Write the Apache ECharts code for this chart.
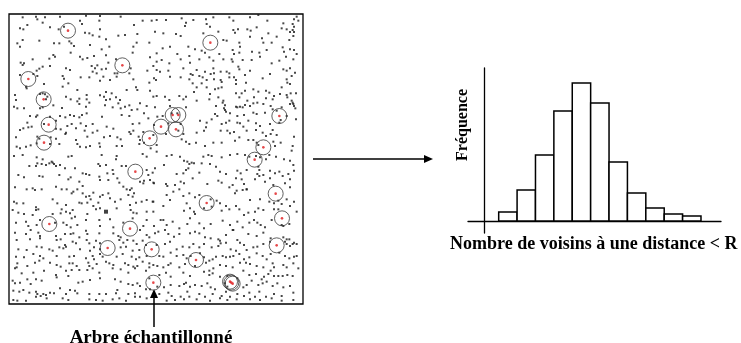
<!DOCTYPE html>
<html><head><meta charset="utf-8">
<script src="https://cdn.jsdelivr.net/npm/echarts@6/dist/echarts.min.js"></script>
<style>html,body{margin:0;padding:0;background:#fff}#c{width:741px;height:343px}</style>
</head><body><div id="c"></div>
<script>
// ---- Left panel: tree positions (plot units, y downward) ----
const treesA = [[68,52],[108,50],[112,58],[128,68],[135,52],[180,50],[258,47],[300,48],[298,62],[362,50],[402,75],[428,62],[455,62],
[60,85],[70,88],[82,75],[150,82],[176,88],[192,80],[240,62],[246,72],[255,98],[268,100],[278,106],[300,88],[298,110],[355,107],[375,105],[412,102],[465,95],
[52,130],[60,140],[68,120],[118,122],[162,130],[178,130],[208,124],[214,130],[222,138],[270,135],[318,118],[328,140],[305,148],[400,140],[410,128],[448,128],
[98,178],[148,176],[160,165],[165,170],[212,158],[240,170],[248,178],[262,174],[282,168],[318,166],[348,178],[398,158],[450,172],
[62,188],[68,195],[72,190],[110,212],[118,206],[128,200],[150,198],[198,205],[210,210],[275,198],[285,205],[292,196],[278,215],[290,220],[305,208],[318,206],[325,188],[392,205],[352,220],[350,230],[388,220],[442,212],[460,198],
[60,225],[100,222],[112,228],[188,228],[192,236],[205,250],[242,232],[268,232],[300,242],[310,230],[330,240],[344,220],[400,238],[448,248],
[78,260],[80,265],[132,252],[188,260],[232,270],[260,285],[318,276],[335,280],[380,270],[408,262],[412,270],[450,272],[460,290],
[45,285],[48,300],[120,282],[128,280],[135,283],[142,290],[138,298],[198,290],[212,298],[238,296],[260,298],[300,286],[318,300],[312,290],[330,298],[348,292],[360,300],
[42,320],[52,325],[72,325],[120,325],[128,322],[160,316],[186,324],[232,304],[238,312],[258,320],[268,308],[315,316],[338,322],[355,310],[362,325],[375,320],[388,316],[395,330],[412,328],[420,310],[440,318],
[90,348],[108,350],[112,346],[150,350],[180,348],[196,352],[210,345],[222,348],[238,352],[246,345],[260,340],[306,350],[365,345],[388,348],[432,340],[445,355],
[82,368],[132,372],[168,362],[202,378],[215,372],[242,370],[258,378],[278,372],[320,380],[398,372],[418,370],
[60,390],[70,385],[85,382],[95,380],[168,386],[182,388],[198,398],[228,385],[254,392],[278,398],[292,392],[340,386],[388,396],[392,402],[400,392],[430,396],
[48,412],[112,410],[118,416],[152,412],[168,416],[196,402],[228,420],[262,410],[312,412],[330,408],[352,412],[362,418],[416,410],[420,420],[432,428],
[50,440],[60,445],[78,440],[92,436],[110,430],[150,432],[178,432],[232,432],[240,440],[258,442],[270,438],[298,430],[300,440],[350,438],[366,438],[418,432],[452,445]];

const treesB = [[470,60],[498,60],[545,55],[558,68],[580,60],[618,58],[640,52],[688,52],[700,62],[750,52],[775,45],[802,62],[850,70],[878,72],[882,58],[890,50],[895,62],
[490,100],[528,102],[542,108],[555,78],[620,72],[630,80],[655,95],[700,90],[705,98],[714,88],[742,88],[752,92],[770,82],[805,100],[845,85],[860,88],[870,96],[878,90],[882,80],
[610,100],[670,120],[680,122],[718,128],[720,140],[750,110],[786,115],[790,128],[815,128],[830,110],[868,120],[880,108],[882,96],
[470,160],[488,145],[510,140],[532,162],[565,140],[568,168],[585,148],[605,152],[615,158],[658,162],[698,150],[702,162],[718,158],[756,155],[778,158],[800,150],[848,142],[852,155],[870,148],[882,150],[890,162],
[470,185],[485,180],[508,190],[542,178],[570,188],[598,178],[628,172],[640,182],[670,178],[695,178],[698,185],[728,180],[755,180],[780,170],[815,190],[838,182],[858,170],[880,178],
[470,210],[480,215],[505,212],[550,205],[572,222],[590,210],[615,215],[640,205],[642,220],[662,215],[680,215],[688,220],[715,200],[718,208],[750,212],[850,208],[860,212],[870,205],[885,218],
[462,235],[468,240],[510,230],[542,232],[568,238],[578,225],[598,228],[608,232],[620,240],[632,222],[642,238],[662,240],[665,246],[688,232],[702,232],[708,240],[735,225],[788,235],[810,222],[860,238],[875,228],
[578,250],[590,262],[605,250],[620,262],[645,268],[655,265],[665,262],[708,252],[738,248],[845,262],[862,248],[870,252],
[470,288],[495,290],[538,288],[558,290],[582,276],[630,282],[655,292],[708,280],[725,280],[735,272],[760,268],[775,275],[798,272],[808,278],[822,288],[840,282],[860,285],[872,280],[888,280],
[508,300],[550,298],[590,302],[628,298],[670,302],[718,292],[742,302],[762,292],[798,295],[818,298],[862,292],[875,302],[880,312],
[465,322],[510,318],[515,340],[532,340],[558,322],[648,318],[668,308],[675,316],[672,325],[675,330],[708,320],[712,322],[720,320],[728,322],[735,315],[750,318],[760,310],[772,308],[790,312],[812,318],[818,328],[845,322],[870,312],[878,308],[882,318],[886,325],
[472,350],[488,348],[645,342],[652,348],[678,335],[690,340],[712,348],[732,345],[760,338],[770,342],[795,338],[830,332],[860,348],
[462,375],[505,370],[542,372],[600,362],[620,368],[635,358],[665,372],[678,368],[688,362],[712,368],[720,370],[745,362],[768,370],[780,378],[810,372],[838,368],[842,360],[888,358],
[460,405],[498,402],[535,392],[550,402],[590,398],[612,392],[618,382],[662,392],[682,392],[690,400],[702,396],[730,380],[740,392],[768,390],[788,398],[798,408],[812,402],[818,390],[830,405],[882,410],
[470,435],[545,418],[558,425],[568,432],[588,428],[615,438],[640,428],[665,428],[705,422],[718,412],[745,420],[760,420],[770,428],[775,435],[820,425],[825,438],[842,428],[878,438]];

const treesC = [[22,472],[42,468],[68,465],[110,472],[128,478],[155,485],[162,492],[205,470],[215,468],[305,465],[350,468],[348,478],[428,462],[440,470],
[10,498],[25,495],[88,498],[108,498],[112,490],[125,492],[138,495],[148,490],[158,488],[168,498],[180,495],[195,505],[225,505],[248,520],[258,522],[268,525],[295,492],[300,498],[318,495],[322,520],[338,510],[340,522],[365,498],[378,498],[440,510],[445,525],[458,518],
[55,525],[72,532],[118,528],[128,530],[178,525],[205,538],[212,532],[238,545],[248,558],[298,530],[300,540],[325,540],[352,535],[358,548],[370,560],[380,568],[390,570],[395,565],[420,545],[430,550],[432,542],[450,540],[462,550],
[45,562],[80,568],[98,565],[105,570],[125,568],[168,560],[185,568],[200,568],[215,580],[220,575],[232,568],[248,580],[258,590],[268,588],[280,578],[300,590],[308,585],[325,580],[330,595],[385,585],[398,590],[402,580],
[42,605],[50,610],[70,610],[108,622],[115,628],[158,598],[172,610],[185,628],[198,615],[218,630],[238,608],[245,610],[262,608],[272,598],[280,618],[295,608],[300,625],[345,605],[362,598],[390,615],[408,608],[425,605],[440,600],[458,605],
[38,630],[55,638],[72,642],[98,645],[108,630],[158,642],[182,640],[198,635],[210,640],[215,655],[225,650],[262,642],[288,628],[330,658],[350,625],[392,630],[400,638],[410,640],[440,635],[460,635],
[48,668],[78,665],[85,678],[110,675],[120,660],[165,668],[190,668],[200,675],[212,682],[232,675],[258,660],[298,660],[300,678],[340,682],[370,668],[398,655],[440,660],[430,678],[462,678],
[45,698],[78,702],[92,690],[115,698],[120,708],[168,708],[195,702],[212,702],[220,700],[238,712],[258,692],[262,702],[298,700],[340,700],[355,708],[362,712],[420,690],[440,705],[448,712],
[50,720],[90,718],[120,715],[170,720],[182,718],[195,735],[218,725],[228,730],[260,720],[268,730],[288,722],[300,730],[358,720],[370,728],[382,720],[400,722],[410,732],[428,722],
[55,748],[80,750],[110,740],[125,742],[148,748],[158,752],[178,742],[190,745],[198,740],[240,748],[270,752],[282,742],[300,748],[362,742],[378,740],[398,752],[418,750],[438,735],
[48,770],[72,772],[100,762],[120,768],[130,775],[170,768],[208,770],[222,768],[258,775],[278,768],[282,778],[300,762],[308,770],[350,770],[368,762],[395,770],[408,778],[418,772],[440,768],
[52,790],[82,798],[105,788],[118,782],[150,788],[170,795],[208,790],[218,790],[230,798],[265,788],[268,798],[290,792],[318,785],[328,790],[340,795],[375,790],[385,795],[400,800],[412,798],[428,785],[448,790],[460,795],
[45,805],[50,802],[65,820],[100,818],[132,812],[182,800],[198,812],[215,810],[238,810],[262,810],[278,805],[298,818],[338,805],[362,808],[385,818],[405,805],[438,812],[448,802],
[38,842],[45,850],[60,848],[82,838],[92,852],[108,838],[125,842],[168,825],[170,832],[205,828],[235,848],[248,845],[270,840],[300,835],[345,838],[362,845],[385,852],[398,855],[412,850],[420,858],[448,835],
[40,872],[58,875],[70,870],[88,878],[108,875],[112,882],[122,888],[130,882],[138,885],[150,878],[162,880],[180,865],[198,882],[210,870],[225,872],[232,880],[268,882],[298,882],[318,882],[348,880],[352,870],[385,882],[405,880],[420,890],[438,868],[450,868],
[40,900],[52,902],[78,902],[108,890],[140,895],[188,895],[205,900],[268,898],[288,900],[308,902],[338,898],[358,895],[378,902],[405,890],[440,895]];

const treesD = [[470,455],[500,468],[515,465],[540,470],[552,482],[562,485],[568,492],[575,488],[582,490],[605,490],[610,470],[625,465],[635,468],[665,472],[690,465],[712,462],[735,465],[748,470],[768,468],[780,472],[798,478],[808,465],[828,470],[852,478],[870,482],[880,495],[875,452],
[465,505],[492,495],[530,522],[550,520],[558,510],[565,505],[598,518],[630,492],[648,500],[660,515],[678,522],[712,512],[722,520],[740,510],[775,500],[778,510],[772,522],[790,525],[810,512],[825,520],[838,515],[848,528],[865,522],[870,538],[882,512],
[460,548],[498,552],[502,558],[525,555],[542,545],[552,550],[578,535],[622,552],[655,542],[665,548],[688,562],[698,555],[708,535],[725,538],[732,552],[740,568],[765,538],[778,528],[795,545],[810,535],[820,555],[855,550],[870,562],
[500,585],[520,575],[538,568],[550,588],[568,580],[585,592],[598,585],[632,598],[650,602],[660,610],[678,618],[705,580],[710,572],[728,570],[740,568],[750,600],[780,598],[808,605],[822,610],[835,602],[845,612],[860,598],[870,618],[882,605],
[460,605],[490,618],[510,600],[552,632],[560,610],[570,625],[582,635],[585,642],[612,625],[635,620],[665,632],[688,628],[708,618],[718,628],[732,645],[745,638],[765,635],[775,625],[790,630],[822,628],[835,628],[890,635],
[482,660],[490,660],[500,675],[518,665],[538,685],[562,672],[570,655],[598,670],[612,685],[632,672],[668,662],[690,675],[700,690],[712,665],[728,682],[748,668],[762,660],[772,668],[782,675],[795,682],[815,660],[845,675],[850,678],[868,672],
[465,700],[475,695],[495,690],[505,702],[522,710],[538,702],[570,700],[585,695],[598,700],[615,712],[632,715],[655,718],[660,722],[678,705],[698,690],[712,720],[745,702],[770,708],[790,698],[812,715],[850,712],[860,718],[868,718],[882,728],[890,732],
[470,735],[495,732],[510,725],[530,748],[548,740],[568,742],[580,732],[598,742],[612,732],[635,742],[655,738],[662,730],[678,728],[692,748],[708,752],[720,728],[732,735],[740,750],[760,742],[772,740],[790,732],[810,725],[855,725],[860,732],[870,738],[878,732],
[478,768],[490,770],[512,758],[530,768],[550,765],[560,775],[572,768],[600,760],[612,772],[628,782],[638,778],[648,770],[668,768],[678,772],[690,770],[700,768],[718,762],[732,778],[748,772],[770,760],[788,768],[800,778],[812,762],[838,758],[855,768],[868,775],[882,770],[890,768],
[472,798],[490,802],[505,795],[512,790],[538,802],[555,792],[585,798],[618,788],[628,812],[640,805],[660,795],[678,798],[698,802],[720,788],[738,788],[750,792],[770,798],[790,802],[818,790],[822,802],[850,795],[860,802],[880,790],[895,805],
[478,825],[498,818],[512,830],[550,818],[570,828],[612,815],[628,825],[638,820],[660,830],[682,828],[712,835],[730,812],[748,825],[768,822],[785,838],[792,830],[805,822],[812,812],[822,828],[835,828],[848,828],[862,825],[878,828],
[472,860],[492,862],[512,855],[538,858],[552,852],[558,848],[570,860],[585,855],[605,858],[622,850],[632,862],[645,868],[675,850],[682,860],[730,862],[740,855],[755,842],[775,855],[788,850],[800,845],[818,858],[832,850],[850,862],[870,858],
[478,882],[505,878],[515,888],[542,890],[562,875],[568,890],[598,882],[615,890],[638,882],[665,888],[678,875],[690,890],[712,882],[732,888],[748,878],[765,890],[778,875],[798,890],[822,882],[845,888],[880,878],
[500,902],[525,900],[552,898],[590,898],[630,902],[660,895],[682,900],[710,898],[750,898],[780,900],[815,895],[845,902],[880,900]];

const markTree = [[318,635]];

const sampledTrees = [[204,92],[367,196],[85,237],[131,298],[146,374],[132,428],[449,415],[483,380],[631,128],[518,345],[535,345],[528,388],[838,348],[790,442],[764,479],[406,515],[827,581],[620,609],[846,655],[148,672],[390,686],[830,736],[323,744],[455,748],[588,780],[460,848],[690,845],[698,851],[694,848]];

// ---- Right panel: histogram ----
const neighbourBins = [0,1,2,3,4,5,6,7,8,9,10];
const frequencies = [9,31,66,110,138,118,59,28,13,7,5];

const allTrees = treesA.concat(treesB, treesC, treesD);
const serif = '"Liberation Serif","Times New Roman",serif';

const chart = echarts.init(document.getElementById('c'), null, {renderer:'canvas'});
chart.setOption({
  animation:false,
  backgroundColor:'#fff',
  grid:[
    {left:9, top:14, width:294, height:290, show:true, borderColor:'#000', borderWidth:1.3, backgroundColor:'transparent'},
    {left:468, top:68, width:253, height:165}
  ],
  xAxis:[
    {gridIndex:0, type:'value', min:27, max:909, show:false},
    {gridIndex:1, type:'value', min:-1.669, max:12.088,
     axisLine:{show:true, onZero:true, lineStyle:{color:'#000', width:1.3}},
     axisTick:{show:false}, axisLabel:{show:false}, splitLine:{show:false}}
  ],
  yAxis:[
    {gridIndex:0, type:'value', min:42, max:912, inverse:true, show:false},
    {gridIndex:1, type:'value', min:-12, max:153, offset:-16,
     axisLine:{show:true, onZero:false, lineStyle:{color:'#000', width:1.3}},
     axisTick:{show:false}, axisLabel:{show:false}, splitLine:{show:false}}
  ],
  series:[
    {type:'scatter', xAxisIndex:0, yAxisIndex:0, data:allTrees, symbol:'rect', symbolSize:2,
     itemStyle:{color:'#1a1a1a'}, silent:true},
    {type:'scatter', xAxisIndex:0, yAxisIndex:0, data:markTree, symbol:'rect', symbolSize:4,
     itemStyle:{color:'#111'}, silent:true},
    {type:'scatter', xAxisIndex:0, yAxisIndex:0, data:sampledTrees, symbol:'circle', symbolSize:15,
     itemStyle:{color:'rgba(0,0,0,0)', borderColor:'#3a3a3a', borderWidth:1}, silent:true},
    {type:'scatter', xAxisIndex:0, yAxisIndex:0, data:sampledTrees, symbol:'circle', symbolSize:2.6,
     itemStyle:{color:'#e0191b'}, silent:true},
    {type:'custom', xAxisIndex:1, yAxisIndex:1,
     data: neighbourBins.map((b,i)=>[b, frequencies[i]]),
     renderItem:function(params, api){
       const x0 = api.value(0), v = api.value(1);
       const p0 = api.coord([x0, 0]);
       const p1 = api.coord([x0+1, v]);
       return {type:'rect', shape:{x:p0[0], y:p1[1], width:p1[0]-p0[0], height:p0[1]-p1[1]},
               style:{fill:'#fff', stroke:'#000', lineWidth:1.5}};
     }, silent:true}
  ],
  graphic:[
    {type:'line', shape:{x1:313, y1:159, x2:426, y2:159}, style:{stroke:'#000', lineWidth:1.5}},
    {type:'polygon', shape:{points:[[433,159],[424,155],[424,163]]}, style:{fill:'#000'}},
    {type:'line', shape:{x1:154, y1:327, x2:154, y2:296}, style:{stroke:'#000', lineWidth:1.5}},
    {type:'polygon', shape:{points:[[154,289],[150,298],[158,298]]}, style:{fill:'#000'}},
    {type:'text', x:463, y:125, rotation:Math.PI/2,
     style:{text:'Fréquence', font:'bold 16px '+serif, fill:'#000', align:'center', verticalAlign:'middle'}},
    {type:'text', x:450, y:244,
     style:{text:'Nombre de voisins à une distance < R', font:'bold 18px '+serif, fill:'#000', align:'left', verticalAlign:'middle'}},
    {type:'text', x:151, y:338,
     style:{text:'Arbre échantillonné', font:'bold 19px '+serif, fill:'#000', align:'center', verticalAlign:'middle'}}
  ]
});
</script></body></html>
